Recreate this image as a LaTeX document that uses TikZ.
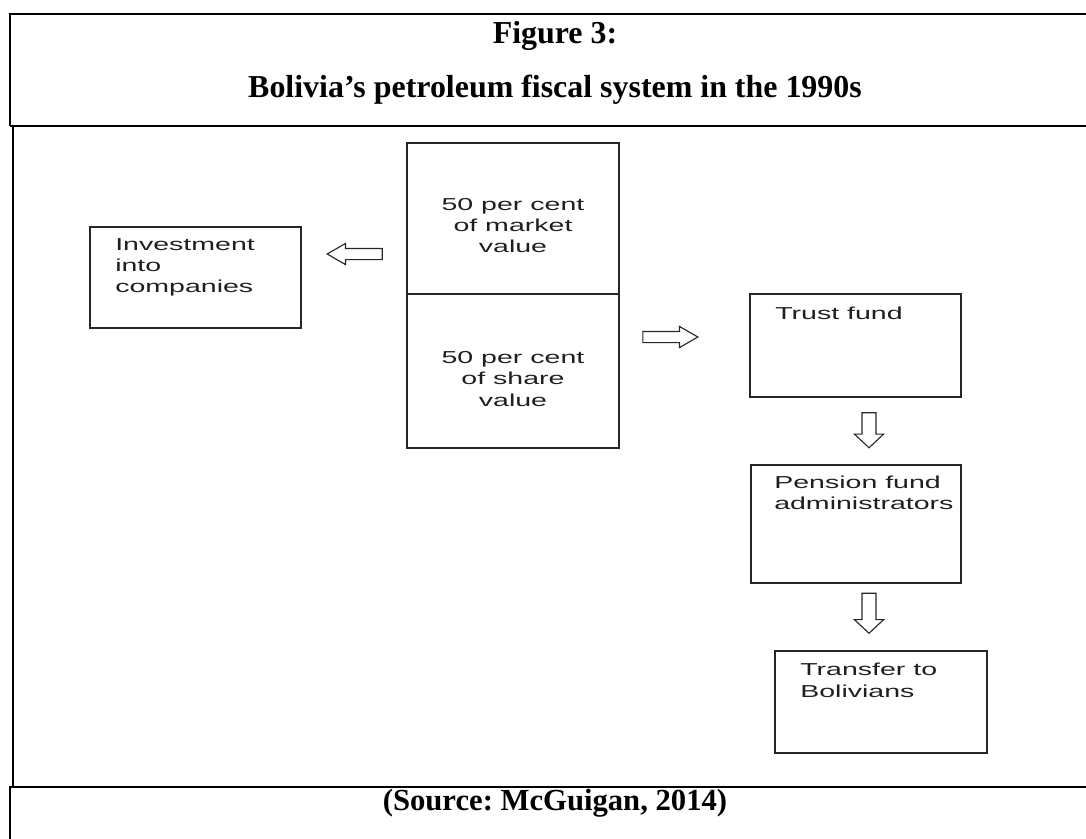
\documentclass[tikz,border=0pt]{standalone}
\usepackage{fontspec}
\setmainfont{Liberation Serif}
\newfontfamily\boxfont[FakeStretch=1.65]{Liberation Sans}
\usetikzlibrary{positioning,calc}
\usetikzlibrary{arrows,shapes}
\tikzstyle{block} = [rectangle,draw=black!85,line width=1.3pt,outer sep=0pt,inner sep=0pt]
\tikzstyle{txt} = [inner sep=0pt,align=left,text=black!88,font=\boxfont\fontsize{12.3}{15}\selectfont]
\tikzstyle{hollow} = [single arrow,draw=black!85,line width=0.8pt,inner xsep=0pt]
\tikzstyle{harrow} = [hollow,minimum height=1.375cm,inner ysep=0.125cm,single arrow head extend=0.125cm,single arrow tip angle=60]
\tikzstyle{varrow} = [hollow,inner ysep=0.16cm,single arrow head extend=0.19cm,single arrow tip angle=94,rotate=-90]
\tikzstyle{title} = [inner sep=0pt,font=\bfseries\fontsize{22.7}{26}\selectfont\frenchspacing]
\tikzstyle{frame} = [line width=1.4pt]

\begin{document}
\begin{tikzpicture}[x=0.025cm,y=-0.025cm]
    \useasboundingbox (0,0) rectangle (1086,838);
    % table frame
    \draw[frame] (1090,14) -- (10,14) -- (10,126);
    \draw[line width=1pt] (10,126) -- (1090,126);
    \draw[frame] (13,126) -- (13,787);
    \draw[frame] (10,840) -- (10,787) -- (1090,787);
    \node[title,anchor=base] (fig) at (555,43) {Figure 3:};
    \node[title,anchor=base] (head) at (555,97) {Bolivia’s petroleum fiscal system in the 1990s};
    \node[title,anchor=base,font=\bfseries\fontsize{21.8}{26}\selectfont\frenchspacing] (src) at (555,810) {(Source: McGuigan, 2014)};
    % boxes
    \node[block,minimum width=5.275cm,minimum height=2.525cm] (invest) at (195.5,277.5) {};
    \node[block,minimum width=5.3cm,minimum height=3.775cm] (market) at (513,218.5) {};
    \node[block,minimum width=5.3cm,minimum height=3.85cm,below=0pt of market] (share) {};
    \node[block,minimum width=5.275cm,minimum height=2.575cm] (trust) at (855.5,345.5) {};
    \node[block,minimum width=5.25cm,minimum height=2.95cm] (pension) at (856,524) {};
    \node[block,minimum width=5.3cm,minimum height=2.55cm] (transfer) at (881,702) {};
    % texts (base = last line)
    \node[txt,anchor=base west] (investtxt) at ([shift={(25,66)}]invest.north west) {Investment\\into\\companies};
    \node[txt,anchor=base,align=center] (markettxt) at ([shift={(0,110)}]market.north) {50 per cent\\of market\\value};
    \node[txt,anchor=base,align=center] (sharetxt) at ([shift={(0,112)}]share.north) {50 per cent\\of share\\value};
    \node[txt,anchor=base west] (trusttxt) at ([shift={(25,26)}]trust.north west) {Trust fund};
    \node[txt,anchor=base west] (pensiontxt) at ([shift={(23,45)}]pension.north west) {Pension fund\\administrators};
    \node[txt,anchor=base west] (transfertxt) at ([shift={(25,46)}]transfer.north west) {Transfer to\\Bolivians};
    % hollow arrows
    \node[harrow,rotate=180] (toinvest) at (359.5,254) {};
    \node[harrow] (totrust) at (665.5,337) {};
    \node[varrow,minimum height=0.875cm] (topension) at (869,427) {};
    \node[varrow,minimum height=1cm] (totransfer) at (869,610) {};
\end{tikzpicture}
\end{document}
